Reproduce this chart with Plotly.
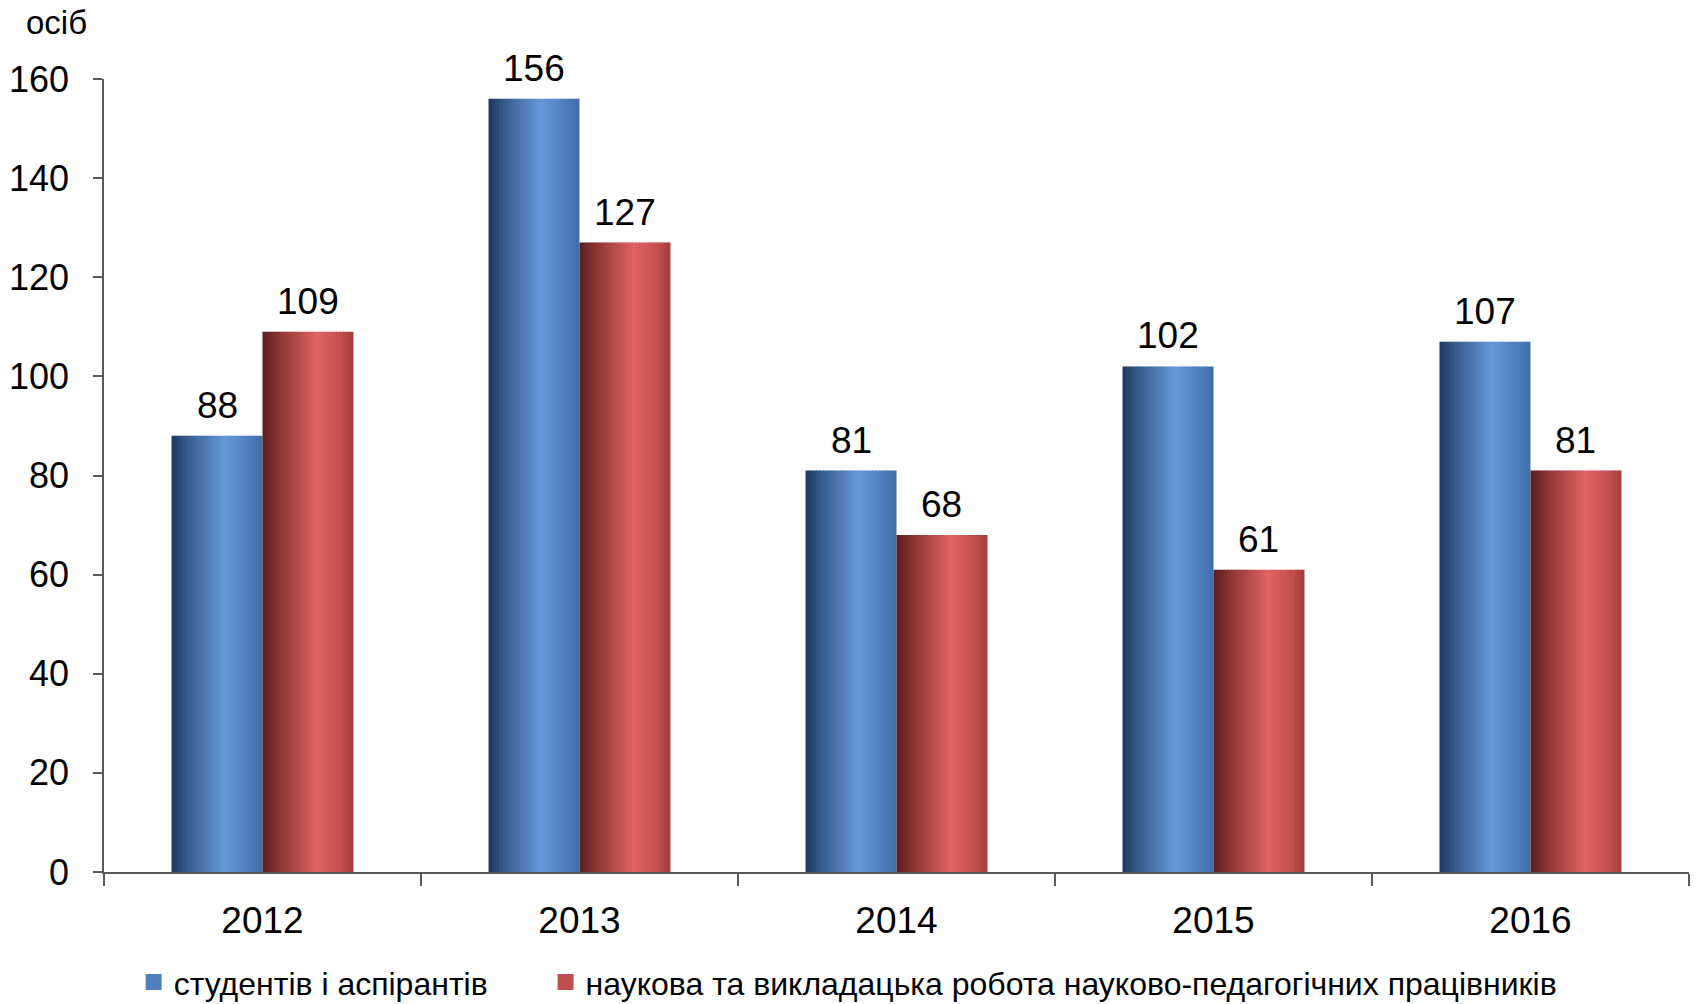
import plotly.graph_objects as go

years = ["2012", "2013", "2014", "2015", "2016"]
students = [88, 156, 81, 102, 107]
staff = [109, 127, 68, 61, 81]
series_names = ["студентів і аспірантів",
                "наукова та викладацька робота науково-педагогічних працівників"]
y_tick_vals = [0, 20, 40, 60, 80, 100, 120, 140, 160]
unit_label = "осіб"

FONT = "Liberation Sans, Arial, sans-serif"
BAR_W = 0.287
N_SLICES = 26

BLUE_STOPS = [(0.0, (30, 55, 92)), (0.18, (55, 92, 142)), (0.58, (102, 153, 218)),
              (0.85, (78, 125, 190)), (1.0, (66, 108, 168))]
RED_STOPS = [(0.0, (88, 30, 30)), (0.18, (140, 52, 52)), (0.6, (224, 100, 98)),
             (0.86, (194, 80, 78)), (1.0, (160, 62, 60))]
LEGEND_COLORS = ["#4f81bd", "#c0504d"]
LEGEND_NAMES = ["legend", "legend2"]


def grad(stops, t):
    for (p0, c0), (p1, c1) in zip(stops[:-1], stops[1:]):
        if p0 <= t <= p1:
            f = (t - p0) / (p1 - p0)
            c = [round(a + (b - a) * f) for a, b in zip(c0, c1)]
            return "rgb(%d,%d,%d)" % tuple(c)
    return "rgb(%d,%d,%d)" % stops[-1][1]


fig = go.Figure()
for si, (vals, stops) in enumerate([(students, BLUE_STOPS), (staff, RED_STOPS)]):
    base = -BAR_W if si == 0 else 0.0
    sw = BAR_W / N_SLICES
    for k in range(N_SLICES):
        t = (k + 0.5) / N_SLICES
        wk = sw * 1.25 if k < N_SLICES - 1 else sw
        fig.add_trace(go.Bar(
            x=years, y=vals, offset=base + k * sw, width=wk,
            marker=dict(color=grad(stops, t), line=dict(width=0)),
            showlegend=False, hoverinfo="skip"))
    # legend entry
    fig.add_trace(go.Scatter(
        x=years, y=[None] * len(years), name=series_names[si], mode="markers",
        marker=dict(color=LEGEND_COLORS[si], symbol="square", size=18, line=dict(width=0)),
        showlegend=True, legend=LEGEND_NAMES[si]))
    for i, v in enumerate(vals):
        fig.add_annotation(
            x=i + base + BAR_W / 2, y=v, xref="x", yref="y",
            text=str(v), showarrow=False, yanchor="bottom", yshift=8,
            font=dict(family=FONT, size=37, color="black"))

fig.add_annotation(
    x=-0.0297, y=1.071, xref="paper", yref="paper", text=unit_label,
    showarrow=False, xanchor="center", yanchor="middle",
    font=dict(family=FONT, size=33, color="black"))

legend_style = dict(orientation="h", yanchor="middle", y=-0.139, xanchor="left",
                    font=dict(family=FONT, size=32, color="black"),
                    itemwidth=30, bgcolor="rgba(0,0,0,0)")

fig.update_layout(
    width=1696, height=1004,
    margin=dict(l=104, r=7, t=79, b=132, autoexpand=False),
    barmode="overlay",
    plot_bgcolor="white", paper_bgcolor="white",
    font=dict(family=FONT, color="black"),
    legend=dict(x=0.0187, **legend_style),
    legend2=dict(x=0.2786, **legend_style),
    xaxis=dict(type="category", showline=True, linecolor="#5a5a5a", linewidth=1.5,
               ticks="outside", tickson="boundaries", ticklen=12, tickcolor="#5a5a5a",
               tickwidth=1.5, showgrid=False, ticklabelstandoff=15, automargin=False,
               tickfont=dict(family=FONT, size=37, color="black")),
    yaxis=dict(range=[0, 160], tickvals=y_tick_vals, showline=True, linecolor="#5a5a5a",
               linewidth=1.5, ticks="outside", ticklen=9, tickcolor="#5a5a5a",
               tickwidth=1.5, showgrid=False, zeroline=False, ticklabelstandoff=17,
               automargin=False,
               tickfont=dict(family=FONT, size=36, color="black")),
)

fig.write_html("out.html", config={"displayModeBar": False},
               post_script="document.body.style.margin='0';document.body.style.overflow='hidden';")
